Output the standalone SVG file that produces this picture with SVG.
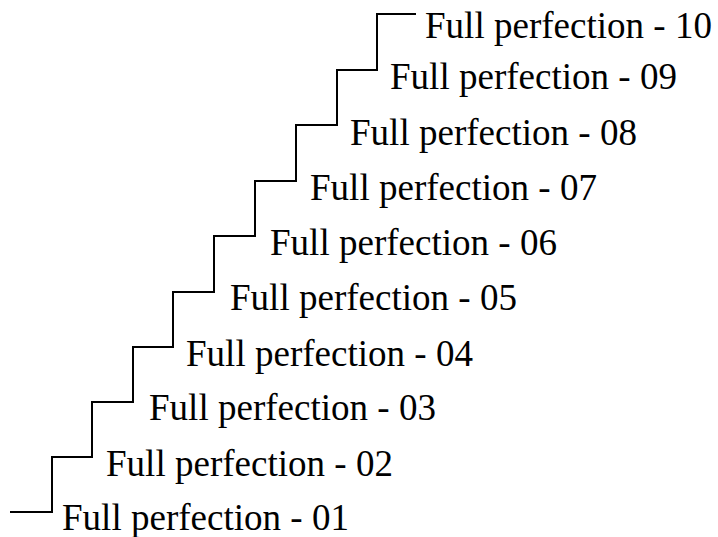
<svg xmlns="http://www.w3.org/2000/svg" width="718" height="537" viewBox="0 0 718 537">
<style>
.stair{fill:none;stroke:#000;stroke-width:2}
text{font-family:'Liberation Serif','Times New Roman',serif;font-size:38px;fill:#000}
</style>
<rect width="718" height="537" fill="#fff"/>
<g id="connectors">
<path class="stair" d="M10,512 H52 V457 H92 V402 H133 V347 H173 V292 H214 V236 H255 V181 H296 V125 H337 V70 H377 V14 H416"/>
</g>
<g id="step01"><text x="62" y="530" textLength="287" lengthAdjust="spacingAndGlyphs">Full perfection - 01</text></g>
<g id="step02"><text x="106" y="476" textLength="287" lengthAdjust="spacingAndGlyphs">Full perfection - 02</text></g>
<g id="step03"><text x="149" y="420" textLength="287" lengthAdjust="spacingAndGlyphs">Full perfection - 03</text></g>
<g id="step04"><text x="186" y="366" textLength="287" lengthAdjust="spacingAndGlyphs">Full perfection - 04</text></g>
<g id="step05"><text x="230" y="310" textLength="287" lengthAdjust="spacingAndGlyphs">Full perfection - 05</text></g>
<g id="step06"><text x="270" y="255" textLength="287" lengthAdjust="spacingAndGlyphs">Full perfection - 06</text></g>
<g id="step07"><text x="310" y="200" textLength="287" lengthAdjust="spacingAndGlyphs">Full perfection - 07</text></g>
<g id="step08"><text x="350" y="145" textLength="287" lengthAdjust="spacingAndGlyphs">Full perfection - 08</text></g>
<g id="step09"><text x="390" y="89" textLength="287" lengthAdjust="spacingAndGlyphs">Full perfection - 09</text></g>
<g id="step10"><text x="425" y="38" textLength="287" lengthAdjust="spacingAndGlyphs">Full perfection - 10</text></g>
</svg>
